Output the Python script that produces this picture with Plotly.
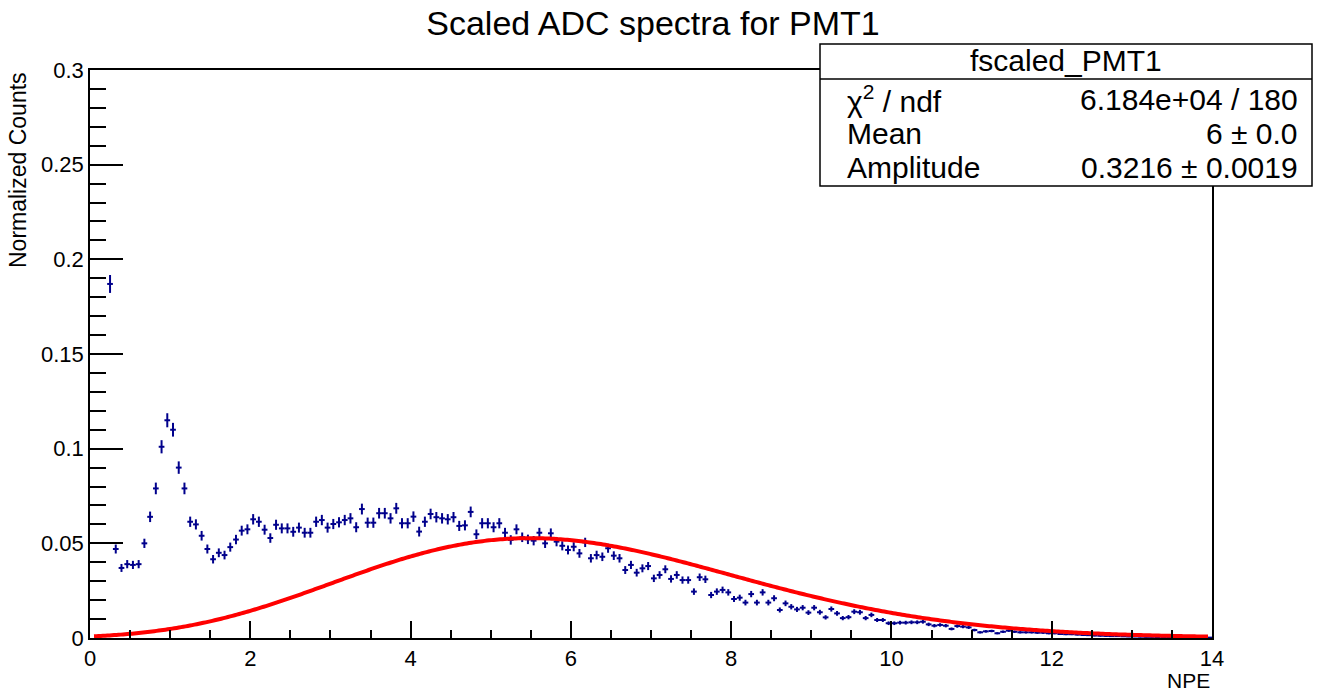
import math
import plotly.graph_objects as go

# ---------------- data ----------------
bin_width = 1.0 / 14.0          # NPE per histogram bin
first_bin = 3                   # index of first drawn bin (centre 0.25 NPE)

counts = [
    0.187, 0.047, 0.037, 0.039, 0.0386, 0.039, 0.050, 0.064, 0.079, 0.101,
    0.115, 0.110, 0.090, 0.079, 0.0614, 0.060, 0.054, 0.047, 0.0416, 0.045,
    0.0438, 0.048, 0.052, 0.0567, 0.0574, 0.0627, 0.0614, 0.0572, 0.0528, 0.0598,
    0.0579, 0.0579, 0.0561, 0.0583, 0.0556, 0.0556, 0.0614, 0.0623, 0.0583, 0.0602,
    0.0611, 0.0623, 0.0632, 0.0585, 0.0681, 0.0609, 0.0609, 0.0659, 0.0659, 0.0632,
    0.0685, 0.0606, 0.0606, 0.0641, 0.0562, 0.0614, 0.0655, 0.0638, 0.0632, 0.0627,
    0.0638, 0.0592, 0.0595, 0.0666, 0.0548, 0.0606, 0.0606, 0.0585, 0.0606, 0.0556,
    0.0518, 0.0574, 0.0532, 0.0521, 0.0514, 0.0556, 0.0500, 0.0553, 0.0509, 0.0487,
    0.0465, 0.0482, 0.0447, 0.0505, 0.0421, 0.0438, 0.0429, 0.0474, 0.0435, 0.0421,
    0.0359, 0.0386, 0.0345, 0.0368, 0.0380, 0.0315, 0.0333, 0.0363, 0.0312, 0.0333,
    0.0306, 0.0306, 0.0245, 0.0321, 0.0310, 0.0227, 0.0245, 0.0254, 0.0241, 0.0206,
    0.0213, 0.0187, 0.0232, 0.0187, 0.0241, 0.0187, 0.0210, 0.0148, 0.0183, 0.0165,
    0.0151, 0.0160, 0.0134, 0.0160, 0.0136, 0.0109, 0.0153, 0.0130, 0.0105, 0.0110,
    0.0139, 0.0136, 0.0105, 0.0122, 0.0095, 0.0095, 0.0078, 0.0078, 0.0081, 0.0081,
    0.0083, 0.0083, 0.0086, 0.0072, 0.0065, 0.0069, 0.0065, 0.0048, 0.0063, 0.0060,
    0.0056, 0.0042, 0.0030, 0.0035, 0.0037, 0.0025, 0.0033, 0.0039, 0.0033, 0.0030,
    0.0030, 0.0030, 0.0028, 0.0028, 0.0025, 0.0025, 0.0021, 0.0020, 0.0020, 0.0018,
    0.0016, 0.0015, 0.0013, 0.0012, 0.0011, 0.0010, 0.0010, 0.0009, 0.0008, 0.0008,
    0.0007, 0.0006, 0.0006, 0.0005, 0.0005, 0.0004, 0.0004, 0.0003, 0.0003, 0.0003,
    0.0002, 0.0002, 0.0002,
]
error_scale = 0.00012           # Poisson error: sqrt(value * scale)

fit_mean = 6.0
fit_amplitude = 0.3216
fit_xmin, fit_xmax = 0.05, 13.95

title_text = "Scaled ADC spectra for PMT1"
x_title = "NPE"
y_title = "Normalized Counts"
stats_name = "fscaled_PMT1"
stats_labels = ["χ<sup>2</sup> / ndf", "Mean", "Amplitude"]
stats_values = ["6.184e+04 / 180", "6 ± 0.0", "0.3216 ± 0.0019"]

# ---------------- derived ----------------
x_centres = [(first_bin + i + 0.5) * bin_width for i in range(len(counts))]
errors = [math.sqrt(v * error_scale) for v in counts]

def fit_func(x):
    return fit_amplitude * math.exp(x * math.log(fit_mean) - fit_mean - math.lgamma(x + 1))

n_fit = 500
fit_x = [fit_xmin + (fit_xmax - fit_xmin) * k / (n_fit - 1) for k in range(n_fit)]
fit_y = [fit_func(x) for x in fit_x]

# ---------------- layout helpers ----------------
W, H = 1328, 692
L, R, T, B = 90, 1212, 70, 638
def px_x(px):
    return (px - L) / (R - L)
def px_y(py):
    return (B - py) / (B - T)

FONT = "Liberation Sans, Arial, Helvetica, sans-serif"
NAVY = "rgb(0,0,140)"

fig = go.Figure()
fig.add_trace(go.Scatter(
    x=x_centres, y=counts, mode="markers",
    marker=dict(size=1, color=NAVY),
    error_y=dict(type="data", array=errors, width=0, thickness=2, color=NAVY),
    error_x=dict(type="constant", value=bin_width / 2, width=0, thickness=2, color=NAVY),
    hoverinfo="x+y", showlegend=False,
))
fig.add_trace(go.Scatter(
    x=fit_x, y=fit_y, mode="lines",
    line=dict(color="#ff0000", width=4, simplify=False), showlegend=False, hoverinfo="skip",
))

fig.update_layout(
    width=W, height=H,
    margin=dict(l=L, r=W - R, t=T, b=H - B),
    paper_bgcolor="white", plot_bgcolor="white",
    font=dict(family=FONT, color="black"),
    title=dict(text=title_text, x=653 / W, xanchor="center", xref="container",
               y=1 - 23 / H, yanchor="middle", yref="container",
               font=dict(size=34, family=FONT, color="black")),
)
fig.update_xaxes(
    range=[0, 14], showgrid=False, zeroline=False,
    showline=True, linecolor="black", linewidth=1.5, mirror=True,
    ticks="inside", ticklen=17, tickwidth=1.5, tickcolor="black", dtick=2, tick0=0,
    minor=dict(dtick=0.5, ticks="inside", ticklen=8, tickwidth=1.5, tickcolor="black"),
    tickfont=dict(size=22, family=FONT, color="black"),
)
fig.update_yaxes(
    range=[0, 0.3], showgrid=False, zeroline=False,
    showline=True, linecolor="black", linewidth=1.5, mirror=True,
    ticks="inside", ticklen=33, tickwidth=1.5, tickcolor="black", dtick=0.05, tick0=0,
    minor=dict(dtick=0.01, ticks="inside", ticklen=16, tickwidth=1.5, tickcolor="black"),
    tickfont=dict(size=22, family=FONT, color="black"),
)

# axis titles (ROOT style: at the end of the axes)
fig.add_annotation(text=y_title, textangle=-90, xref="paper", yref="paper",
                   x=px_x(18), y=1.0, xanchor="center", yanchor="top", showarrow=False,
                   font=dict(size=23, family=FONT, color="black"))
fig.add_annotation(text=x_title, xref="paper", yref="paper",
                   x=1.0, y=px_y(680), xanchor="right", yanchor="middle", showarrow=False,
                   font=dict(size=21, family=FONT, color="black"))

# stats box
bx0, bx1, by0, by1, sep = 820, 1312, 44, 186, 79
fig.add_shape(type="rect", xref="paper", yref="paper",
              x0=px_x(bx0), x1=px_x(bx1), y0=px_y(by1), y1=px_y(by0),
              fillcolor="white", line=dict(color="black", width=1.5), layer="above")
fig.add_shape(type="line", xref="paper", yref="paper",
              x0=px_x(bx0), x1=px_x(bx1), y0=px_y(sep), y1=px_y(sep),
              line=dict(color="black", width=1.5), layer="above")
fig.add_annotation(text=stats_name, xref="paper", yref="paper",
                   x=px_x((bx0 + bx1) / 2), y=px_y(61), xanchor="center", yanchor="middle",
                   showarrow=False, font=dict(size=30, family=FONT, color="black"))
row_y = [99, 134, 167]
for lab, val, ry in zip(stats_labels, stats_values, row_y):
    fig.add_annotation(text=lab, xref="paper", yref="paper", x=px_x(845), y=px_y(ry),
                       xanchor="left", yanchor="middle", showarrow=False,
                       font=dict(size=30, family=FONT, color="black"))
    fig.add_annotation(text=val, xref="paper", yref="paper", x=px_x(1300), y=px_y(ry),
                       xanchor="right", yanchor="middle", showarrow=False,
                       font=dict(size=30, family=FONT, color="black"))

fig.write_html("out.html", config={"displayModeBar": False},
               post_script="document.body.style.margin='0px';")
